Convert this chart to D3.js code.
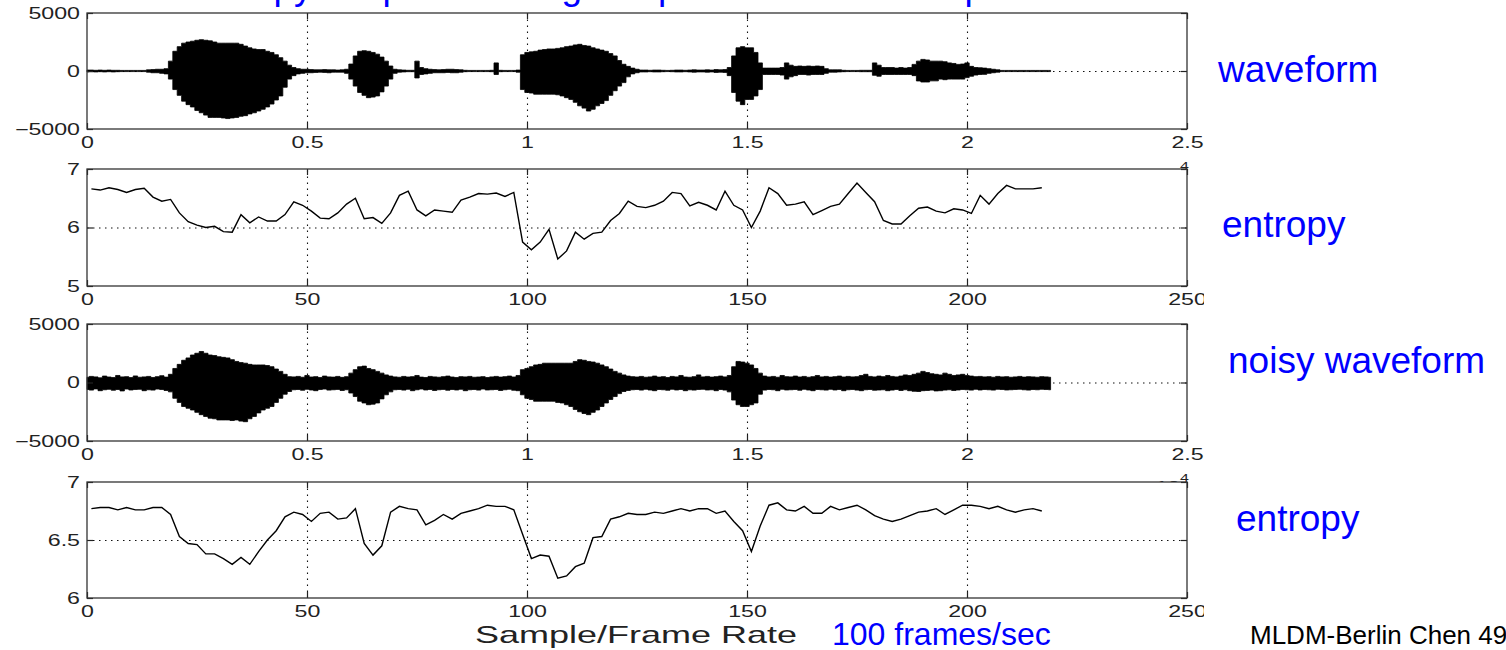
<!DOCTYPE html>
<html>
<head>
<meta charset="utf-8">
<script src="https://cdn.jsdelivr.net/npm/d3@7"></script>
<style>
  body { margin: 0; background: #fff; }
  text { font-family: "Liberation Sans", Arial, sans-serif; }
</style>
</head>
<body>
<script>
// waveform envelopes, one max/min pair per 100 samples
var waveStep = 100;
var cleanUpper = [80,80,60,80,60,80,60,60,50,50,
  50,50,50,50,100,120,150,150,200,850,
  1700,2100,2400,2500,2570,2650,2700,2650,2600,2500,
  2400,2400,2400,2400,2400,2300,2150,2000,1900,1850,
  1850,1700,1600,1400,1150,850,500,300,200,150,
  150,120,100,100,120,100,100,80,100,150,
  600,1300,1700,1750,1700,1600,1450,1200,850,430,
  150,100,80,60,60,850,300,200,150,120,
  100,120,150,150,120,100,60,50,50,50,
  50,50,60,700,60,50,50,50,80,1400,
  1600,1650,1700,1800,1850,1900,1900,1950,2000,2100,
  2150,2250,2300,2200,2150,2000,1900,1800,1700,1500,
  1300,900,580,400,250,150,80,80,60,80,
  80,60,50,60,80,80,60,80,100,80,
  80,100,80,120,100,120,300,1300,2000,2100,
  2000,2000,1600,700,250,250,250,250,300,700,
  500,400,430,400,430,400,430,400,200,100,
  100,100,60,50,50,50,60,60,60,700,
  500,300,300,300,250,300,250,300,570,850,
  1000,950,850,850,850,800,700,650,570,600,
  700,400,300,280,250,200,150,100,50,50,
  50,50,50,50,50,50,50,50,50,50];
var cleanLower = [-80,-60,-80,-60,-80,-60,-80,-60,-50,-50,
  -50,-50,-50,-50,-100,-150,-150,-200,-250,-700,
  -1600,-2100,-2600,-2900,-3100,-3400,-3600,-3800,-4000,-4000,
  -4000,-4050,-4100,-4050,-4000,-3900,-3850,-3700,-3600,-3450,
  -3300,-3100,-2850,-2500,-2150,-1400,-700,-400,-250,-200,
  -150,-150,-120,-100,-120,-150,-100,-100,-100,-200,
  -700,-1300,-1850,-2100,-2300,-2250,-2150,-1800,-1300,-700,
  -200,-100,-80,-60,-60,-600,-300,-250,-200,-150,
  -150,-150,-120,-150,-150,-100,-60,-50,-50,-50,
  -50,-50,-60,-300,-60,-50,-50,-50,-100,-1600,
  -1850,-1900,-2000,-2000,-2000,-2000,-2000,-2050,-2150,-2300,
  -2450,-2700,-3000,-3200,-3450,-3300,-3000,-2800,-2550,-2100,
  -1700,-1300,-1000,-500,-250,-150,-80,-80,-60,-80,
  -80,-60,-50,-60,-80,-80,-60,-80,-100,-80,
  -80,-100,-80,-120,-100,-120,-400,-1850,-2600,-2900,
  -2450,-2450,-2150,-1600,-300,-300,-300,-300,-350,-700,
  -500,-400,-300,-300,-350,-300,-300,-300,-200,-100,
  -100,-80,-60,-50,-50,-50,-60,-60,-60,-370,
  -450,-300,-300,-300,-300,-300,-300,-300,-400,-860,
  -950,-950,-850,-850,-700,-750,-700,-700,-700,-700,
  -570,-450,-350,-300,-290,-200,-150,-100,-50,-50,
  -50,-50,-50,-50,-50,-50,-50,-50,-50,-50];
var noisyUpper = [450,520,480,400,550,470,430,600,480,500,
  420,560,450,480,520,430,500,580,460,700,
  1200,1550,1900,2100,2350,2500,2650,2500,2350,2300,
  2200,2150,2100,1950,1800,1700,1650,1550,1500,1500,
  1500,1450,1350,1150,950,700,500,480,520,450,
  600,470,500,430,550,480,460,520,440,500,
  800,1100,1350,1400,1200,1100,950,800,650,550,
  480,450,520,470,500,600,460,430,520,480,
  450,500,550,470,430,500,480,520,450,470,
  500,430,480,520,460,500,550,470,600,1100,
  1200,1350,1500,1550,1650,1650,1650,1650,1650,1650,
  1650,1800,1950,1900,1800,1750,1650,1500,1350,1150,
  950,800,650,550,500,470,520,450,480,550,
  460,500,430,520,480,600,470,450,500,650,
  480,520,460,500,550,480,600,1350,1800,1750,
  1650,1500,1200,800,550,480,520,450,600,500,
  480,550,470,520,450,500,600,480,520,460,
  500,550,470,520,480,500,600,700,520,480,
  550,500,600,520,480,550,650,600,700,800,
  950,850,750,700,650,800,700,600,650,700,
  600,550,500,520,480,500,450,520,480,500,
  450,480,520,460,500,480,450,500,480,450];
var noisyLower = [-600,-650,-550,-700,-620,-580,-660,-600,-720,-560,
  -640,-600,-580,-700,-620,-650,-560,-600,-680,-800,
  -1350,-1700,-2050,-2200,-2350,-2550,-2750,-2900,-3050,-3100,
  -3200,-3200,-3200,-3250,-3200,-3300,-3350,-3100,-2900,-2600,
  -2350,-2200,-2050,-1700,-1350,-1000,-770,-620,-600,-660,
  -580,-640,-700,-600,-560,-650,-620,-590,-680,-620,
  -900,-1200,-1600,-1750,-1900,-1850,-1750,-1400,-1050,-800,
  -620,-600,-650,-580,-700,-620,-560,-640,-600,-680,
  -620,-590,-660,-600,-640,-580,-700,-620,-600,-650,
  -560,-640,-620,-600,-680,-620,-580,-660,-700,-1050,
  -1350,-1450,-1600,-1600,-1600,-1600,-1600,-1700,-1750,-1900,
  -2050,-2300,-2500,-2650,-2750,-2550,-2350,-2050,-1750,-1450,
  -1200,-950,-770,-680,-620,-600,-650,-580,-640,-700,
  -600,-620,-660,-580,-640,-600,-700,-620,-650,-600,
  -580,-640,-620,-700,-600,-650,-800,-1500,-1900,-2050,
  -2050,-1900,-1750,-1000,-650,-600,-620,-700,-580,-640,
  -620,-600,-660,-580,-640,-700,-600,-620,-650,-580,
  -640,-600,-700,-620,-600,-650,-700,-620,-600,-660,
  -640,-620,-700,-650,-600,-680,-620,-700,-750,-770,
  -700,-680,-650,-720,-700,-650,-620,-680,-640,-600,
  -620,-650,-580,-640,-600,-620,-650,-580,-600,-640,
  -620,-600,-580,-620,-650,-600,-620,-580,-600,-620];

// entropy, read every 2nd frame starting at frame 1
var frameStart = 1, frameStep = 2;
var cleanEntropy = [6.66,6.64,6.68,6.65,6.6,6.65,6.67,6.52,6.45,6.48,
  6.25,6.1,6.04,6.0,6.02,5.93,5.92,6.22,6.08,6.18,
  6.11,6.11,6.22,6.44,6.38,6.28,6.16,6.15,6.25,6.4,
  6.5,6.15,6.17,6.07,6.25,6.55,6.62,6.3,6.2,6.3,
  6.28,6.26,6.47,6.52,6.58,6.57,6.59,6.53,6.6,5.75,
  5.62,5.75,5.97,5.46,5.6,5.92,5.8,5.9,5.92,6.12,
  6.24,6.45,6.36,6.34,6.38,6.45,6.6,6.58,6.37,6.43,
  6.38,6.3,6.62,6.38,6.3,6.0,6.28,6.68,6.58,6.38,
  6.4,6.44,6.22,6.29,6.36,6.4,6.58,6.76,6.6,6.44,
  6.12,6.06,6.06,6.2,6.33,6.35,6.28,6.25,6.32,6.3,
  6.24,6.55,6.4,6.58,6.72,6.66,6.66,6.66,6.68];
var noisyEntropy = [6.77,6.78,6.78,6.76,6.78,6.76,6.76,6.78,6.78,6.72,
  6.53,6.47,6.46,6.38,6.38,6.34,6.29,6.35,6.29,6.4,
  6.5,6.58,6.7,6.74,6.72,6.66,6.73,6.74,6.68,6.69,
  6.77,6.47,6.37,6.45,6.74,6.79,6.77,6.76,6.63,6.67,
  6.72,6.68,6.73,6.75,6.77,6.8,6.79,6.79,6.76,6.55,
  6.34,6.37,6.36,6.17,6.19,6.27,6.3,6.52,6.53,6.68,
  6.7,6.73,6.72,6.72,6.74,6.73,6.75,6.77,6.75,6.77,
  6.77,6.73,6.75,6.66,6.58,6.4,6.62,6.8,6.82,6.76,
  6.75,6.79,6.73,6.73,6.79,6.76,6.78,6.8,6.76,6.71,
  6.68,6.66,6.68,6.71,6.74,6.75,6.77,6.72,6.76,6.8,
  6.8,6.79,6.77,6.79,6.76,6.74,6.76,6.77,6.75];

// ticks
var sampleTicks = [0, 5000, 10000, 15000, 20000, 25000];
var sampleTickLabels = ["0", "0.5", "1", "1.5", "2", "2.5"];
var frameTicks = [0, 50, 100, 150, 200, 250];
var ampTicks = [-5000, 0, 5000];
var entropyTicks1 = [5, 6, 7];
var entropyTicks2 = [6, 6.5, 7];

var W = 1506, H = 650;
var left = 87, right = 1187;
var stretch = 1.45;   // matlab text is drawn wide on the slide

var svg = d3.select("body").append("svg")
    .attr("width", W)
    .attr("height", H);

svg.append("defs").append("clipPath").attr("id", "figclip")
  .append("rect").attr("x", 0).attr("y", 0).attr("width", 1204).attr("height", H);

// slide title, only the descenders reach into the picture
svg.append("text")
    .attr("x", 185).attr("y", -1)
    .attr("fill", "#0000ff")
    .style("font-size", "37px")
    .text("Entropy of speech using its spectrum in the endpoint detection");

var fig = svg.append("g").attr("clip-path", "url(#figclip)");

var panels = [
  {top: 13, bottom: 129, xDomain: [0, 25000], xTicks: sampleTicks, xLabels: sampleTickLabels,
   yDomain: [-5000, 5000], yTicks: ampTicks, upper: cleanUpper, lower: cleanLower, exponent: true},
  {top: 169, bottom: 286, xDomain: [0, 250], xTicks: frameTicks, xLabels: frameTicks.map(String),
   yDomain: [5, 7], yTicks: entropyTicks1, entropy: cleanEntropy},
  {top: 324, bottom: 441, xDomain: [0, 25000], xTicks: sampleTicks, xLabels: sampleTickLabels,
   yDomain: [-5000, 5000], yTicks: ampTicks, upper: noisyUpper, lower: noisyLower, exponent: true},
  {top: 482, bottom: 598, xDomain: [0, 250], xTicks: frameTicks, xLabels: frameTicks.map(String),
   yDomain: [6, 7], yTicks: entropyTicks2, entropy: noisyEntropy}
];

function plain(d) { return d < 0 ? "\u2212" + (-d) : String(d); }

function widen(sel, dx) {
  sel.attr("transform", "scale(" + stretch + ",1)");
  if (dx != null) sel.attr("x", dx / stretch);
}

panels.forEach(function(p) {
  var g = fig.append("g");
  var h = p.bottom - p.top;

  var x = d3.scaleLinear().domain(p.xDomain).range([left, right]);
  var y = d3.scaleLinear().domain(p.yDomain).range([p.bottom, p.top]);

  g.append("rect")
      .attr("x", left).attr("y", p.top)
      .attr("width", right - left).attr("height", h)
      .attr("fill", "#fff");

  // dotted grid
  var gx = g.append("g")
      .attr("transform", "translate(0," + p.bottom + ")")
      .call(d3.axisBottom(x).tickValues(p.xTicks.slice(1, -1)).tickSize(-h).tickFormat(""));
  var gy = g.append("g")
      .attr("transform", "translate(" + left + ",0)")
      .call(d3.axisLeft(y).tickValues([p.yTicks[1]]).tickSize(-(right - left)).tickFormat(""));
  [gx, gy].forEach(function(a) {
    a.select(".domain").remove();
    a.selectAll("line").attr("stroke", "#111").attr("stroke-width", 1.1).attr("stroke-dasharray", "1.5,4.5");
  });

  if (p.upper) {
    var area = d3.area()
        .x(function(d, i) { return x(i * waveStep); })
        .y0(function(d, i) { return y(p.lower[i]); })
        .y1(function(d) { return y(d); })
        .curve(d3.curveStep);
    g.append("path")
        .datum(p.upper)
        .attr("d", area)
        .attr("fill", "#000")
        .attr("stroke", "#000")
        .attr("stroke-width", 0.8);
  } else {
    var line = d3.line()
        .x(function(d, i) { return x(frameStart + i * frameStep); })
        .y(function(d) { return y(d); });
    g.append("path")
        .datum(p.entropy)
        .attr("d", line)
        .attr("fill", "none")
        .attr("stroke", "#000")
        .attr("stroke-width", 1.4);
  }

  // axes with inward ticks, matlab style
  var xb = g.append("g").attr("transform", "translate(0," + p.bottom + ")")
      .call(d3.axisBottom(x).tickValues(p.xTicks)
        .tickFormat(function(d, i) { return p.xLabels[i]; })
        .tickSizeInner(-6).tickSizeOuter(0).tickPadding(8));
  var xt = g.append("g").attr("transform", "translate(0," + p.top + ")")
      .call(d3.axisTop(x).tickValues(p.xTicks).tickFormat("").tickSizeInner(-6).tickSizeOuter(0));
  var yl = g.append("g").attr("transform", "translate(" + left + ",0)")
      .call(d3.axisLeft(y).tickValues(p.yTicks).tickFormat(plain)
        .tickSizeInner(-6).tickSizeOuter(0).tickPadding(7));
  var yr = g.append("g").attr("transform", "translate(" + right + ",0)")
      .call(d3.axisRight(y).tickValues(p.yTicks).tickFormat("").tickSizeInner(-6).tickSizeOuter(0));
  [xb, xt, yl, yr].forEach(function(a) {
    a.select(".domain").remove();
    a.selectAll("line").attr("stroke", "#222").attr("stroke-width", 1.2);
    a.selectAll("text").attr("fill", "#222").style("font-size", "16px").style("font-family", "Liberation Sans, Arial");
  });
  widen(xb.selectAll("text"));
  widen(yl.selectAll("text"), -7);

  g.append("rect")
      .attr("x", left).attr("y", p.top)
      .attr("width", right - left).attr("height", h)
      .attr("fill", "none")
      .attr("stroke", "#333")
      .attr("stroke-width", 1.3);

  if (p.exponent) {
    var ex = g.append("g").attr("transform", "translate(1143," + (p.bottom + 50) + ")")
      .append("text")
        .attr("fill", "#222")
        .style("font-size", "15px")
        .attr("transform", "scale(" + stretch + ",1)");
    ex.append("tspan").text("\u00d710");
    ex.append("tspan").attr("dy", -9).style("font-size", "11px").text("4");
  }
});

// axis label under the last panel
fig.append("g").attr("transform", "translate(475,643)")
  .append("text")
    .attr("fill", "#222")
    .style("font-size", "24px")
    .attr("transform", "scale(1.5,1)")
    .text("Sample/Frame Rate");

// slide annotations
var notes = [
  {t: "waveform", x: 1218, y: 82, s: 37},
  {t: "entropy", x: 1222, y: 237, s: 37},
  {t: "noisy waveform", x: 1228, y: 373, s: 37},
  {t: "entropy", x: 1236, y: 531, s: 37},
  {t: "100 frames/sec", x: 832, y: 645, s: 32}
];
svg.selectAll(".note")
  .data(notes)
  .enter()
  .append("text")
    .attr("class", "note")
    .attr("x", function(d) { return d.x; })
    .attr("y", function(d) { return d.y; })
    .attr("fill", "#0000ff")
    .style("font-size", function(d) { return d.s + "px"; })
    .text(function(d) { return d.t; });

svg.append("text")
    .attr("x", 1250).attr("y", 644)
    .attr("fill", "#000")
    .style("font-size", "26px")
    .text("MLDM-Berlin Chen 49");
</script>
</body>
</html>
